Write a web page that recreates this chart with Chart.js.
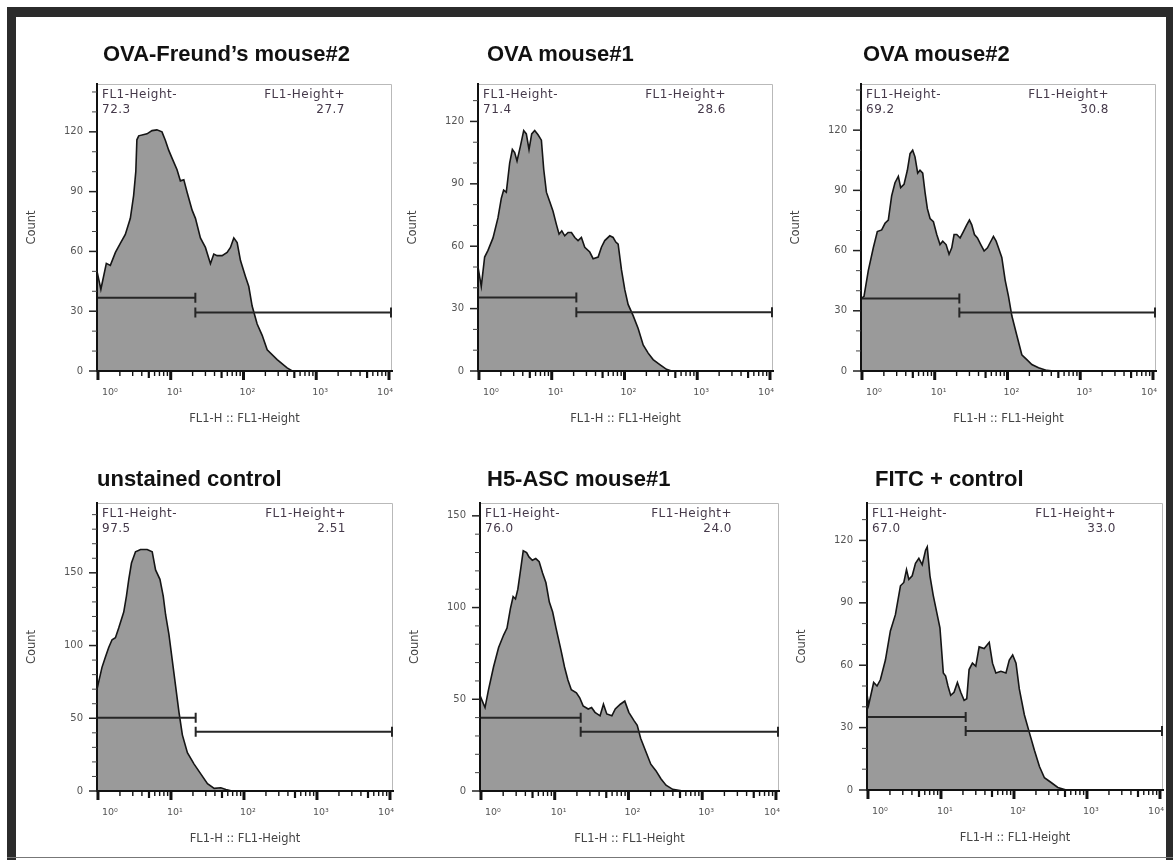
<!DOCTYPE html>
<html>
<head>
<meta charset="utf-8">
<script src="https://cdn.jsdelivr.net/npm/chart.js@4.4.1/dist/chart.umd.min.js"></script>
<style>
  html, body { margin: 0; padding: 0; background: #fff; }
  body { width: 1173px; height: 860px; position: relative; overflow: hidden; font-family: "DejaVu Sans", sans-serif; }
  .band { position: absolute; background: #2b2b2b; }
  .ptitle { position: absolute; font: bold 22px "Liberation Sans", Arial, sans-serif; line-height: 22px; color: #111; white-space: nowrap; }
  .glbl { position: absolute; font-family: "DejaVu Sans", sans-serif; font-size: 12px; line-height: 14.5px; letter-spacing: 0.5px; color: #45394a; white-space: nowrap; }
  .glbl.r { text-align: right; }
  canvas { position: absolute; }
</style>
</head>
<body>
<div class="band" style="left:7px;top:7px;width:1166px;height:10px;"></div>
<div class="band" style="left:7px;top:7px;width:9px;height:853px;"></div>
<div class="band" style="left:1166px;top:7px;width:7px;height:853px;"></div>
<div class="band" style="left:7px;top:857px;width:1166px;height:1px;background:#777;"></div>
<script>
// ---------------- data ----------------
const panelTitles = ["OVA-Freund\u2019s mouse#2", "OVA mouse#1", "OVA mouse#2", "unstained control", "H5-ASC mouse#1", "FITC + control"];
const gateNegName = "FL1-Height-";
const gatePosName = "FL1-Height+";
const negPercent = ["72.3", "71.4", "69.2", "97.5", "76.0", "67.0"];
const posPercent = ["27.7", "28.6", "30.8", "2.51", "24.0", "33.0"];
const xTitle = "FL1-H :: FL1-Height";
const yTitle = "Count";

const xRange = [0.97, 11000];
const xTickValues = [1,2,3,4,5,6,7,8,9,10,20,30,40,50,60,70,80,90,100,200,300,400,500,600,700,800,900,1000,2000,3000,4000,5000,6000,7000,8000,9000,10000];
const xTickLabels = { 1: "10\u2070", 10: "10\u00B9", 100: "10\u00B2", 1000: "10\u00B3", 10000: "10\u2074" };

const yMax = [144, 138, 143, 198, 157, 138];
const yLabelStep = [30, 30, 30, 50, 50, 30];
const yMinorStep = 10;

// gates: split value on FL1-H, and the count level where each gate bar is drawn
const gateSplit = [21.8, 21.8, 21.8, 21.8, 22.5, 21.8];
const gateNegLevel = [36.7, 35.3, 36.1, 50.4, 39.9, 35.1];
const gatePosLevel = [29.3, 28.2, 29.1, 40.8, 32.3, 28.4];

// histograms: log10(FL1-H) positions and counts
const p1Log = [-0.013,0.04,0.115,0.17,0.24,0.307,0.376,0.445,0.49,0.52,0.535,0.56,0.674,0.743,0.81,0.88,0.927,0.972,1.018,1.087,1.133,1.18,1.225,1.294,1.34,1.408,1.477,1.546,1.592,1.638,1.706,1.775,1.821,1.867,1.913,1.959,2.028,2.073,2.119,2.188,2.257,2.326,2.463,2.6,2.67,4.05];
const p1Count = [50,41,54,53,59.5,64,68.5,76.6,88,100,116,118,119,120.6,121,120,115.7,110.8,106.8,101,95.4,96,89.7,80.7,76.6,66.8,62,53.8,58.7,57.9,57.9,59.5,62,66.8,64.4,55.4,47.3,42.4,32.6,23.6,17.9,10.6,5.7,1.6,0,0];

const p2Log = [-0.013,0.032,0.078,0.124,0.193,0.261,0.307,0.339,0.376,0.422,0.459,0.491,0.523,0.569,0.615,0.651,0.688,0.725,0.766,0.812,0.858,0.89,0.927,0.972,1.018,1.064,1.101,1.138,1.179,1.225,1.271,1.317,1.362,1.408,1.454,1.523,1.569,1.638,1.683,1.729,1.798,1.844,1.881,1.913,1.959,2.005,2.05,2.119,2.188,2.257,2.326,2.394,2.486,2.578,2.647,4.05];
const p2Count = [50,40.7,54.8,58,64,73.6,83,87,86,100,106.5,105,101,108,115.6,114,106.5,114,115.6,113.6,111,97,86,81.5,76.8,70.5,65.8,67.4,65,66.6,66.6,64.2,62.7,64.2,59.5,57.2,54,54.8,59.5,62.7,65,64.2,62,61,48.6,39,32,26.6,20.4,12.5,8.6,5.5,3.1,0.8,0,0];

const p3Log = [-0.013,0.028,0.087,0.156,0.211,0.271,0.317,0.362,0.408,0.454,0.5,0.532,0.578,0.624,0.661,0.697,0.729,0.766,0.798,0.835,0.867,0.899,0.936,0.982,1.028,1.073,1.11,1.156,1.197,1.234,1.266,1.303,1.349,1.394,1.44,1.477,1.509,1.546,1.587,1.633,1.679,1.725,1.761,1.807,1.844,1.876,1.922,1.968,2.014,2.06,2.128,2.197,2.266,2.335,2.427,2.541,2.633,4.05];
const p3Count = [36,37.2,50,61.4,69.5,70.3,73.6,75.2,87.3,93.8,97,91.4,93,100,108.3,110,106.7,98.6,100,98.6,89,80.9,76,74.4,68,63,64.7,63,58.2,61.4,68,68,66.3,69.5,72.8,75.2,72.8,68,66.3,63,59.8,61.4,63.9,67.1,64.7,61.4,56.6,45.3,37.2,27.5,17.8,8.1,5.7,3.2,1.6,0.3,0,0];

const p4Log = [-0.013,0.055,0.101,0.147,0.193,0.239,0.284,0.353,0.39,0.422,0.459,0.514,0.583,0.674,0.743,0.789,0.849,0.894,0.927,0.972,1.018,1.064,1.11,1.156,1.225,1.317,1.408,1.5,1.592,1.683,1.752,1.821,2.05,4.05];
const p4Count = [70,85,92,98.7,104,105.4,112,123,134,145.5,156.7,164.5,166,166,164.5,152,145.5,134,121,107.7,89.8,72,54,38.6,26.3,18.5,11.8,5.1,1.8,2.2,1.1,0.2,0,0];

const p5Log = [-0.013,0.055,0.101,0.17,0.239,0.307,0.353,0.399,0.436,0.468,0.5,0.537,0.573,0.619,0.651,0.697,0.743,0.789,0.835,0.881,0.927,0.972,1.018,1.087,1.133,1.179,1.225,1.294,1.339,1.385,1.454,1.5,1.546,1.615,1.661,1.706,1.775,1.821,1.89,1.95,2.005,2.073,2.119,2.165,2.234,2.303,2.372,2.44,2.509,2.6,2.739,4.05];
const p5Count = [52,45.5,55,67.6,78.2,85,88.8,99.4,106,104.7,110,120.5,131,130,127.6,125.8,126.7,125,118.8,113.5,103,97.6,88.8,76.4,67.6,60.5,55.2,53.5,50.8,46.4,44.7,45.5,42.9,41,47.3,42,41,44.7,47.3,49,42.9,38.5,35.8,28.8,21.7,14.6,11.1,6.7,3.2,0.9,0,0];

const p6Log = [-0.013,0.009,0.078,0.124,0.17,0.239,0.307,0.376,0.445,0.491,0.528,0.56,0.606,0.651,0.697,0.743,0.789,0.812,0.849,0.894,0.94,0.986,1.032,1.064,1.096,1.133,1.179,1.225,1.271,1.317,1.353,1.385,1.431,1.477,1.523,1.592,1.661,1.706,1.752,1.821,1.89,1.936,1.982,2.028,2.073,2.142,2.211,2.28,2.349,2.417,2.509,2.601,2.716,4.05];
const p6Count = [46,40.8,51.7,50,53,62.5,76.5,84.3,98.2,99.8,106,101.3,103,109,111.4,108.3,115.3,116.9,103,93.6,85.8,78,56.3,54.8,50,45.5,47,51.7,47,43.1,43.9,57.9,61,59.5,68.8,68,71,61,56.3,57.1,56.3,62.5,64.9,61,48.6,36.2,27.6,19.1,11.3,5.9,3.6,1.2,0,0];

const histLog = [p1Log, p2Log, p3Log, p4Log, p5Log, p6Log];
const histCount = [p1Count, p2Count, p3Count, p4Count, p5Count, p6Count];

// ---------------- layout ----------------
const plotBoxes = [
  [97, 76, 392, 371],
  [478, 76, 773, 371],
  [861, 76, 1156, 371],
  [97, 495, 393, 791],
  [480, 495, 779, 791],
  [867, 495, 1163, 790]
];
const titleAt = [[103, 43], [487, 43], [863, 43], [97, 468], [487, 468], [875, 468]];
const PAD_L = 90, PAD_T = 12, PAD_R = 25, PAD_B = 60;

Chart.defaults.font.family = '"DejaVu Sans", sans-serif';

const flowDecor = {
  id: 'flowDecor',
  afterDatasetsDraw(chart, args, o) {
    const { ctx, chartArea: a, scales: { x, y } } = chart;
    ctx.save();
    ctx.strokeStyle = '#b9b9b9';
    ctx.lineWidth = 1;
    ctx.beginPath();
    ctx.moveTo(a.left, a.top + 0.5);
    ctx.lineTo(a.right - 0.5, a.top + 0.5);
    ctx.lineTo(a.right - 0.5, a.bottom);
    ctx.stroke();
    const xs = x.getPixelForValue(o.split);
    const yN = y.getPixelForValue(o.neg);
    const yP = y.getPixelForValue(o.pos);
    const cap = 5;
    ctx.strokeStyle = '#262626';
    ctx.lineWidth = 2;
    ctx.beginPath();
    ctx.moveTo(a.left, yN); ctx.lineTo(xs, yN);
    ctx.moveTo(xs, yN - cap); ctx.lineTo(xs, yN + cap);
    ctx.moveTo(xs, yP); ctx.lineTo(a.right, yP);
    ctx.moveTo(xs, yP - cap); ctx.lineTo(xs, yP + cap);
    ctx.moveTo(a.right - 1, yP - cap); ctx.lineTo(a.right - 1, yP + cap);
    ctx.stroke();
    ctx.restore();
  },
  afterDraw(chart, args, o) {
    const { ctx, chartArea: a, scales: { x, y } } = chart;
    ctx.save();
    ctx.strokeStyle = '#111';
    x.ticks.forEach(t => {
      const v = t.value;
      if (v < x.min || v > x.max * 1.0001) return;
      const px = x.getPixelForValue(v);
      const sig = v / Math.pow(10, Math.floor(Math.log10(v) + 1e-9));
      const major = Math.abs(sig - 1) < 1e-6;
      const half = Math.abs(sig - 5) < 1e-6;
      ctx.lineWidth = major ? 3 : (half ? 2.2 : 1.4);
      const len = major ? 9 : (half ? 7 : 5);
      ctx.beginPath();
      ctx.moveTo(px, a.bottom);
      ctx.lineTo(px, a.bottom + len);
      ctx.stroke();
    });
    y.ticks.forEach(t => {
      const py = y.getPixelForValue(t.value);
      const major = t.value % o.labelStep === 0;
      ctx.lineWidth = major ? 1.5 : 1;
      ctx.strokeStyle = major ? '#222' : '#444';
      const len = major ? 8 : 5;
      ctx.beginPath();
      ctx.moveTo(a.left - len, py);
      ctx.lineTo(a.left, py);
      ctx.stroke();
    });
    ctx.restore();
  }
};

function addDiv(cls, html, style) {
  const d = document.createElement('div');
  d.className = cls;
  d.innerHTML = html;
  Object.assign(d.style, style);
  document.body.appendChild(d);
  return d;
}

histLog.forEach((logs, i) => {
  const counts = histCount[i];
  const [l, t, r, b] = plotBoxes[i];
  const W = (r - l) + PAD_L + PAD_R;
  const H = (b - t) + PAD_T + PAD_B;
  const cv = document.createElement('canvas');
  cv.width = W; cv.height = H;
  cv.style.left = (l - PAD_L) + 'px';
  cv.style.top = (t - PAD_T) + 'px';
  cv.style.width = W + 'px';
  cv.style.height = H + 'px';
  document.body.appendChild(cv);

  const n = Math.min(logs.length, counts.length);
  const pts = [];
  for (let k = 0; k < n; k++) pts.push({ x: Math.pow(10, logs[k]), y: counts[k] });

  const step = yLabelStep[i];
  new Chart(cv, {
    type: 'line',
    data: {
      datasets: [{
        data: pts,
        fill: 'origin',
        backgroundColor: '#9a9a9a',
        borderColor: '#151515',
        borderWidth: 1.6,
        pointRadius: 0,
        tension: 0
      }]
    },
    options: {
      responsive: false,
      animation: false,
      devicePixelRatio: 1,
      layout: { padding: { top: PAD_T, right: PAD_R, left: 0, bottom: 0 } },
      plugins: {
        legend: { display: false },
        tooltip: { enabled: false },
        flowDecor: { split: gateSplit[i], neg: gateNegLevel[i], pos: gatePosLevel[i], labelStep: step }
      },
      scales: {
        x: {
          type: 'logarithmic',
          min: xRange[0],
          max: xRange[1],
          afterFit: s => { s.height = PAD_B; },
          afterBuildTicks: s => { s.ticks = xTickValues.map(v => ({ value: v })); },
          grid: { display: false, drawTicks: false },
          border: { display: true, color: '#111', width: 2, z: 1 },
          ticks: {
            autoSkip: false, maxRotation: 0, minRotation: 0,
            align: 'inner', padding: 16, labelOffset: 4,
            color: '#555', font: { size: 9.5 },
            callback: v => xTickLabels[v] || ''
          },
          title: { display: true, text: xTitle, color: '#444', font: { size: 11.5 }, padding: { top: 0, bottom: 5.5 } }
        },
        y: {
          type: 'linear',
          min: 0,
          max: yMax[i],
          afterFit: s => { s.width = PAD_L; },
          grid: { display: false, drawTicks: false },
          border: { display: true, color: '#111', width: 2, z: 1 },
          ticks: {
            stepSize: yMinorStep, includeBounds: false, autoSkip: false,
            padding: 14, color: '#555', font: { size: 10 },
            callback: v => (v % step === 0 ? String(v) : '')
          },
          title: { display: true, text: yTitle, color: '#444', font: { size: 11.5 }, padding: { top: 18, bottom: 0 } }
        }
      }
    },
    plugins: [flowDecor]
  });

  addDiv('ptitle', panelTitles[i], { left: titleAt[i][0] + 'px', top: titleAt[i][1] + 'px' });
  addDiv('glbl', gateNegName + '<br>' + negPercent[i], { left: (l + 5) + 'px', top: (t + 11) + 'px' });
  addDiv('glbl r', gatePosName + '<br>' + posPercent[i], { right: (1173 - (r - 47)) + 'px', top: (t + 11) + 'px' });
});
</script>
</body>
</html>
